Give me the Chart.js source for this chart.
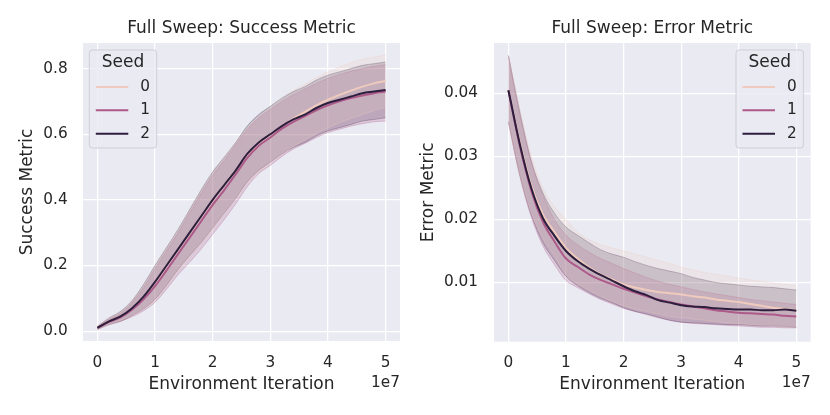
<!DOCTYPE html>
<html>
<head>
<meta charset="utf-8">
<script src="https://cdn.jsdelivr.net/npm/chart.js@4/dist/chart.umd.min.js"></script>
<style>
body { margin: 0; background: #fff; }
.panel { position: absolute; top: 0; width: 415px; height: 415px; }
</style>
</head>
<body>
<div class="panel" style="left:0"><canvas id="successChart" width="415" height="415"></canvas></div>
<div class="panel" style="left:415px"><canvas id="errorChart" width="415" height="415"></canvas></div>
<script>
// x positions, in units of 1e7 environment iterations
const xIter = [0, 0.2, 0.4, 0.6, 0.8, 1.0, 1.2, 1.4, 1.6, 1.8, 2.0, 2.2, 2.4, 2.6, 2.8, 3.0, 3.2, 3.4, 3.6, 3.8, 4.0, 4.2, 4.4, 4.6, 4.8, 5.0]
const xTicks = [0, 1, 2, 3, 4, 5]
const successTicks = [0, 0.2, 0.4, 0.6, 0.8]
const errorTicks = [0.01, 0.02, 0.03, 0.04]
const seeds = ['0', '1', '2']

// success metric: mean and band per seed
const successMean0 = [0.01,0.03,0.045,0.07,0.105,0.148,0.198,0.248,0.298,0.348,0.397,0.445,0.49,0.535,0.57,0.598,0.625,0.648,0.668,0.688,0.705,0.72,0.733,0.745,0.755,0.762]
const successHi0 = [0.015,0.04,0.058,0.092,0.14,0.198,0.253,0.308,0.368,0.428,0.482,0.53,0.575,0.62,0.655,0.683,0.71,0.733,0.753,0.773,0.79,0.805,0.818,0.828,0.835,0.842]
const successLo0 = [0.005,0.02,0.032,0.048,0.068,0.095,0.138,0.185,0.228,0.268,0.312,0.36,0.405,0.45,0.485,0.513,0.54,0.563,0.583,0.603,0.62,0.635,0.648,0.66,0.672,0.682]
const successMean1 = [0.01,0.028,0.042,0.065,0.097,0.137,0.185,0.235,0.285,0.335,0.385,0.43,0.478,0.528,0.565,0.59,0.617,0.638,0.655,0.673,0.688,0.7,0.71,0.718,0.725,0.73]
const successHi1 = [0.014,0.036,0.054,0.087,0.132,0.19,0.245,0.3,0.36,0.42,0.475,0.52,0.568,0.615,0.65,0.675,0.7,0.72,0.738,0.755,0.77,0.782,0.792,0.8,0.807,0.812]
const successLo1 = [0.006,0.02,0.03,0.044,0.062,0.088,0.128,0.172,0.21,0.25,0.295,0.34,0.388,0.44,0.48,0.505,0.532,0.555,0.572,0.59,0.605,0.615,0.625,0.632,0.638,0.64]
const successMean2 = [0.01,0.03,0.045,0.07,0.105,0.15,0.2,0.25,0.3,0.35,0.4,0.445,0.49,0.54,0.575,0.6,0.625,0.645,0.66,0.68,0.695,0.705,0.715,0.725,0.73,0.735]
const successHi2 = [0.015,0.04,0.06,0.093,0.142,0.2,0.255,0.31,0.37,0.43,0.485,0.53,0.575,0.625,0.66,0.685,0.71,0.73,0.745,0.765,0.78,0.79,0.8,0.81,0.815,0.82]
const successLo2 = [0.005,0.02,0.03,0.048,0.068,0.097,0.14,0.188,0.23,0.27,0.315,0.36,0.405,0.455,0.49,0.515,0.54,0.56,0.575,0.595,0.61,0.62,0.63,0.64,0.645,0.65]

// error metric: mean and band per seed
const errorMean0 = [0.0405,0.0322,0.0253,0.0208,0.018,0.0155,0.0138,0.0124,0.0113,0.0105,0.0097,0.0092,0.0088,0.0085,0.0083,0.0081,0.0078,0.0076,0.0073,0.0071,0.0069,0.0066,0.0063,0.006,0.0058,0.0056]
const errorHi0 = [0.046,0.0375,0.03,0.025,0.022,0.02,0.018,0.0168,0.016,0.0155,0.015,0.0145,0.014,0.0135,0.013,0.0124,0.012,0.0116,0.0113,0.011,0.0107,0.0104,0.0102,0.0099,0.0097,0.0095]
const errorLo0 = [0.0355,0.027,0.021,0.017,0.0142,0.0112,0.0098,0.0088,0.0078,0.007,0.0063,0.0058,0.0054,0.005,0.0046,0.0044,0.0042,0.004,0.0038,0.0036,0.0035,0.0033,0.0032,0.0031,0.003,0.0029]
const errorMean1 = [0.0405,0.0316,0.0245,0.0196,0.0165,0.0138,0.0125,0.0113,0.0104,0.0097,0.009,0.0084,0.0078,0.0073,0.0069,0.0065,0.0062,0.0059,0.0056,0.0054,0.0052,0.0051,0.005,0.0049,0.0047,0.0046]
const errorHi1 = [0.046,0.0365,0.029,0.0238,0.02,0.0175,0.016,0.0148,0.0138,0.013,0.0122,0.0115,0.0108,0.0102,0.0097,0.0093,0.0089,0.0085,0.0082,0.0079,0.0076,0.0073,0.0071,0.0069,0.0067,0.0065]
const errorLo1 = [0.0355,0.0268,0.0203,0.0158,0.0128,0.0103,0.0092,0.0082,0.0073,0.0066,0.0059,0.0054,0.0049,0.0044,0.004,0.0037,0.0035,0.0034,0.0033,0.0032,0.0031,0.003,0.0029,0.0029,0.0028,0.0028]
const errorMean2 = [0.0405,0.0319,0.0249,0.0202,0.0174,0.015,0.0134,0.0122,0.0112,0.0103,0.0094,0.0086,0.008,0.0072,0.0068,0.0064,0.0062,0.0061,0.0059,0.0058,0.0057,0.0057,0.0056,0.0056,0.0057,0.0055]
const errorHi2 = [0.046,0.037,0.0292,0.0242,0.021,0.0188,0.0175,0.0163,0.0152,0.0145,0.014,0.0133,0.0127,0.0122,0.0118,0.0114,0.0108,0.0104,0.01,0.0098,0.0096,0.0094,0.0093,0.0092,0.009,0.0088]
const errorLo2 = [0.0355,0.027,0.0207,0.0163,0.0135,0.011,0.0095,0.0084,0.0075,0.0068,0.006,0.0054,0.005,0.0045,0.004,0.0037,0.0036,0.0035,0.0034,0.0033,0.0033,0.0032,0.0031,0.0031,0.003,0.0029]

const seedColors = [[239, 203, 189], [173, 90, 138], [45, 30, 62]]
const textColor = '#262626'

Chart.defaults.font.family = "'DejaVu Sans', sans-serif"
Chart.defaults.color = textColor
Chart.defaults.animation = false

const rgba = (c, a) => `rgba(${c[0]},${c[1]},${c[2]},${a})`
const pts = ys => ys.map((y, i) => ({ x: xIter[i], y: y }))

function buildDatasets(means, his, los) {
    let sets = []
    // mean lines, dark seed on top
    for (let s = 0; s < 3; s++) {
        sets.push({
            label: seeds[s],
            data: pts(means[s]),
            borderColor: rgba(seedColors[s], 1),
            borderWidth: 2,
            pointRadius: 0,
            cubicInterpolationMode: 'monotone',
            fill: false,
            order: 2 - s
        })
    }
    // bands
    for (let s = 0; s < 3; s++) {
        sets.push({
            label: 'hi' + s,
            data: pts(his[s]),
            borderColor: rgba(seedColors[s], 0.3),
            backgroundColor: rgba(seedColors[s], 0.22),
            borderWidth: 1,
            pointRadius: 0,
            cubicInterpolationMode: 'monotone',
            fill: '+1',
            order: 10 + s
        })
        sets.push({
            label: 'lo' + s,
            data: pts(los[s]),
            borderColor: rgba(seedColors[s], 0.3),
            borderWidth: 1,
            pointRadius: 0,
            cubicInterpolationMode: 'monotone',
            fill: false,
            order: 10 + s
        })
    }
    return sets
}

// grey plot background, legend box and the 1e7 offset label
const seabornLook = {
    id: 'seabornLook',
    beforeDraw(chart) {
        const a = chart.chartArea
        const ctx = chart.ctx
        ctx.save()
        ctx.fillStyle = '#eaeaf2'
        ctx.fillRect(a.left, a.top, a.right - a.left, a.bottom - a.top)
        ctx.restore()
    },
    afterDraw(chart, args, opts) {
        const ctx = chart.ctx
        const a = chart.chartArea
        const b = opts.box
        ctx.save()
        ctx.font = "15.3px 'DejaVu Sans'"
        ctx.fillStyle = textColor
        ctx.textAlign = 'right'
        ctx.textBaseline = 'middle'
        ctx.fillText('1e7', a.right, 383)

        ctx.beginPath()
        ctx.roundRect(b.x, b.y, b.w, b.h, 3)
        ctx.fillStyle = 'rgba(234,234,242,0.8)'
        ctx.fill()
        ctx.strokeStyle = '#cfcfd6'
        ctx.lineWidth = 1
        ctx.stroke()

        ctx.fillStyle = textColor
        ctx.textAlign = 'center'
        ctx.font = "17px 'DejaVu Sans'"
        ctx.fillText('Seed', b.x + b.w / 2, b.y + 13)
        const rows = [37, 60.3, 83.7]
        ctx.font = "15.3px 'DejaVu Sans'"
        ctx.textAlign = 'left'
        for (let s = 0; s < 3; s++) {
            ctx.beginPath()
            ctx.moveTo(b.x + 6.5, b.y + rows[s])
            ctx.lineTo(b.x + 39, b.y + rows[s])
            ctx.strokeStyle = rgba(seedColors[s], 1)
            ctx.lineWidth = 2
            ctx.stroke()
            ctx.fillStyle = textColor
            ctx.fillText(seeds[s], b.x + 51, b.y + rows[s])
        }
        ctx.restore()
    }
}

function makeConfig(p) {
    return {
        type: 'line',
        data: { datasets: buildDatasets(p.means, p.his, p.los) },
        options: {
            responsive: false,
            layout: { padding: { left: 0, right: p.padRight, top: 0, bottom: 0 } },
            plugins: {
                legend: { display: false },
                tooltip: { enabled: false },
                title: {
                    display: true,
                    text: p.title,
                    fullSize: false,
                    color: textColor,
                    font: { size: 17, weight: 'normal' },
                    padding: { top: 18, bottom: 4.6 }
                },
                seabornLook: { box: p.box }
            },
            scales: {
                x: {
                    type: 'linear',
                    min: -0.25,
                    max: 5.25,
                    afterBuildTicks: s => { s.ticks = xTicks.map(v => ({ value: v })) },
                    afterFit: s => { s.height = p.xHeight },
                    grid: { color: '#ffffff', lineWidth: 1.25, drawTicks: false },
                    border: { display: false },
                    ticks: { padding: 12.5, font: { size: 15.3 }, color: textColor, maxRotation: 0, autoSkip: false, callback: v => String(v) },
                    title: { display: true, text: 'Environment Iteration', color: textColor, font: { size: 17 }, padding: { top: 0, bottom: 19.8 } }
                },
                y: {
                    min: p.yMin,
                    max: p.yMax,
                    afterBuildTicks: s => { s.ticks = p.yTicks.map(v => ({ value: v })) },
                    afterFit: s => { s.width = p.yWidth },
                    grid: { color: '#ffffff', lineWidth: 1.25, drawTicks: false },
                    border: { display: false },
                    ticks: { padding: p.yTickPad, font: { size: 15.3 }, color: textColor, autoSkip: false, callback: v => v.toFixed(p.digits) },
                    title: { display: true, text: p.yLabel, color: textColor, font: { size: 17 }, padding: { top: p.yTitlePad, bottom: 0 } }
                }
            }
        },
        plugins: [seabornLook]
    }
}

const successChart = new Chart(document.getElementById('successChart'), makeConfig({
    title: 'Full Sweep: Success Metric',
    yLabel: 'Success Metric',
    means: [successMean0, successMean1, successMean2],
    his: [successHi0, successHi1, successHi2],
    los: [successLo0, successLo1, successLo2],
    yTicks: successTicks, yMin: -0.03, yMax: 0.878, digits: 1,
    yWidth: 83, yTickPad: 15.3, yTitlePad: 17,
    xHeight: 74, padRight: 15,
    box: { x: 89.3, y: 50, w: 67.4, h: 98 }
}))

const errorChart = new Chart(document.getElementById('errorChart'), makeConfig({
    title: 'Full Sweep: Error Metric',
    yLabel: 'Error Metric',
    means: [errorMean0, errorMean1, errorMean2],
    his: [errorHi0, errorHi1, errorHi2],
    los: [errorLo0, errorLo1, errorLo2],
    yTicks: errorTicks, yMin: 0.0006, yMax: 0.048, digits: 2,
    yWidth: 79, yTickPad: 16, yTitlePad: 3,
    xHeight: 73.3, padRight: 19.3,
    box: { x: 321, y: 50, w: 67.4, h: 98 }
}))
</script>
</body>
</html>
